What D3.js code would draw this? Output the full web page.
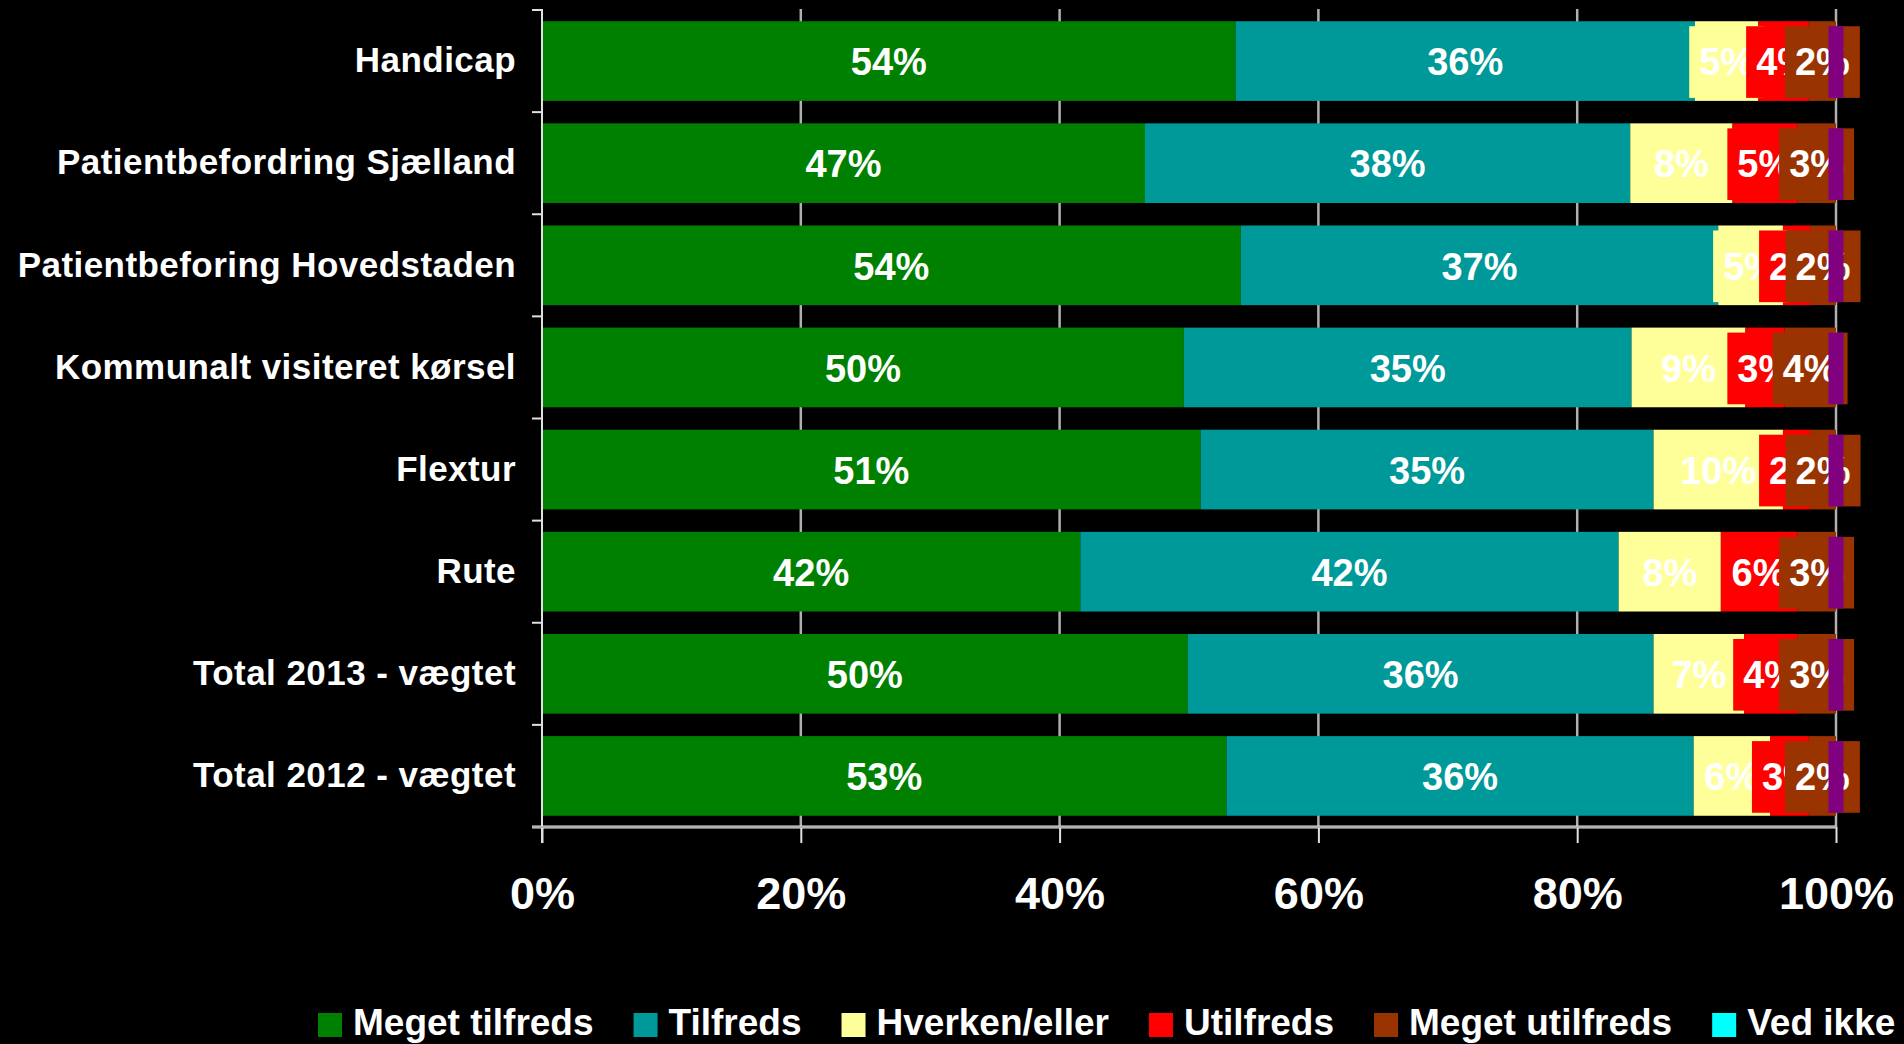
<!DOCTYPE html>
<html>
<head>
<meta charset="utf-8">
<script src="https://cdn.jsdelivr.net/npm/d3@7"></script>
<style>
  body { margin: 0; background: #000; }
  svg text { font-family: "Liberation Sans", Arial, sans-serif; font-weight: bold; fill: #fff; }
</style>
</head>
<body>
<div id="chart"></div>
<script>
const categories = [
    "Handicap",
    "Patientbefordring Sjælland",
    "Patientbeforing Hovedstaden",
    "Kommunalt visiteret kørsel",
    "Flextur",
    "Rute",
    "Total 2013 - vægtet",
    "Total 2012 - vægtet"
];
const seriesNames = ["Meget tilfreds", "Tilfreds", "Hverken/eller", "Utilfreds", "Meget utilfreds", "Ved ikke"];

// shares in percent, one value per category
const megetTilfreds = [53.6, 46.6, 54.0, 49.6, 50.9, 41.6, 49.9, 52.9];
const tilfreds      = [35.5, 37.5, 36.9, 34.6, 35.0, 41.6, 36.0, 36.1];
const hverkenEller  = [4.9, 7.9, 5.0, 8.8, 10.0, 7.9, 7.0, 5.9];
const utilfreds     = [3.9, 5.0, 2.1, 3.0, 2.1, 5.9, 4.1, 3.0];
const megetUtilfreds = [2.1, 3.0, 2.0, 4.0, 2.0, 3.0, 3.0, 2.1];
const vedIkke       = [0, 0, 0, 0, 0, 0, 0, 0];

const xTicks = [0, 20, 40, 60, 80, 100];

const colors = ["#008000", "#009999", "#FFFF99", "#FF0000", "#993300", "#00FFFF"];
const labelFills = ["#008000", "#009999", "#FFFF99", "#FF0000", "#993300", "#800080"];

function renderChart() {
    const width = 1904;
    const height = 1044;
    const left = 542, right = 1836, top = 9, bottom = 827;

    const seriesValues = [megetTilfreds, tilfreds, hverkenEller, utilfreds, megetUtilfreds, vedIkke];
    const rows = categories.map((c, i) => {
        const row = { category: c };
        seriesNames.forEach((s, k) => row[s] = seriesValues[k][i]);
        return row;
    });
    const stacked = d3.stack().keys(seriesNames)(rows);

    const x = d3.scaleLinear().domain([0, 100]).range([left, right]);
    const y = d3.scaleBand()
        .domain(categories)
        .range([10, bottom])
        .paddingInner(0.22)
        .paddingOuter(0.11);

    const svg = d3.select("#chart")
        .append("svg")
        .attr("width", width)
        .attr("height", height)
        .style("background", "#000");

    // vertical gridlines
    svg.append("g")
        .selectAll("line")
        .data(xTicks.slice(1))
        .enter()
        .append("line")
        .attr("x1", d => x(d))
        .attr("x2", d => x(d))
        .attr("y1", top)
        .attr("y2", bottom)
        .attr("stroke", "#b0b0b0")
        .attr("stroke-width", 2.5);

    // bar segments
    svg.append("g")
        .selectAll("g")
        .data(stacked)
        .enter()
        .append("g")
        .attr("fill", (d, i) => colors[i])
        .selectAll("rect")
        .data(d => d)
        .enter()
        .append("rect")
        .attr("x", d => x(d[0]))
        .attr("y", d => y(d.data.category))
        .attr("width", d => x(d[1]) - x(d[0]))
        .attr("height", y.bandwidth());

    // data labels with filled boxes, drawn series by series
    const labels = svg.append("g");
    stacked.forEach((s, k) => {
        s.forEach(d => {
            const v = d.data[s.key];
            const cx = (x(d[0]) + x(d[1])) / 2;
            const by = y(d.data.category) + 5;
            const bh = y.bandwidth() - 8;
            const g = labels.append("g");
            const box = g.append("rect")
                .attr("y", by)
                .attr("height", bh)
                .attr("fill", labelFills[k]);
            const txt = g.append("text")
                .attr("x", cx)
                .attr("y", by + bh / 2)
                .attr("dy", "0.35em")
                .attr("text-anchor", "middle")
                .style("font-size", "38px")
                .text(v > 0 ? Math.round(v) + "%" : "");
            const tw = v > 0 ? txt.node().getComputedTextLength() + 20 : 15;
            box.attr("x", cx - tw / 2).attr("width", tw);
        });
    });

    // y axis
    const yAxis = svg.append("g")
        .attr("transform", `translate(${left},0)`)
        .call(d3.axisLeft(y).tickSize(0).tickPadding(26));
    yAxis.select(".domain").remove();
    yAxis.selectAll("text")
        .attr("dy", "0.32em")
        .style("font-size", "35px")
        .style("letter-spacing", "0.45px")
        .attr("fill", "#fff");

    const bounds = categories.map(c => y(c) - y.step() * 0.11).concat([bottom]);
    svg.append("g")
        .selectAll("line")
        .data(bounds)
        .enter()
        .append("line")
        .attr("x1", left - 10)
        .attr("x2", left)
        .attr("y1", d => d)
        .attr("y2", d => d)
        .attr("stroke", "#e0e0e0")
        .attr("stroke-width", 2);

    svg.append("line")
        .attr("x1", left).attr("x2", left)
        .attr("y1", top).attr("y2", bottom + 16)
        .attr("stroke", "#e0e0e0")
        .attr("stroke-width", 2);

    // x axis
    const xAxis = svg.append("g")
        .attr("transform", `translate(0,${bottom})`)
        .call(d3.axisBottom(x)
            .tickValues(xTicks)
            .tickFormat(d => d + "%")
            .tickSize(16)
            .tickPadding(34));
    xAxis.select(".domain").remove();
    xAxis.selectAll(".tick line").attr("stroke", "#e0e0e0").attr("stroke-width", 2);
    xAxis.selectAll("text")
        .style("font-size", "45px")
        .attr("fill", "#fff");

    svg.append("line")
        .attr("x1", left - 10).attr("x2", right)
        .attr("y1", bottom).attr("y2", bottom)
        .attr("stroke", "#e8e8e8")
        .attr("stroke-width", 3);
    svg.append("line")
        .attr("x1", left - 10).attr("x2", right)
        .attr("y1", bottom).attr("y2", bottom)
        .attr("stroke", "#808080")
        .attr("stroke-width", 1);

    // legend
    const legend = svg.append("g").attr("transform", "translate(318,1013)");
    let lx = 0;
    seriesNames.forEach((s, i) => {
        const item = legend.append("g").attr("transform", `translate(${lx},0)`);
        item.append("rect")
            .attr("width", 24)
            .attr("height", 24)
            .attr("fill", colors[i]);
        const t = item.append("text")
            .attr("x", 35)
            .attr("y", 22)
            .style("font-size", "37px")
            .text(s);
        lx += 35 + t.node().getComputedTextLength() + 40;
    });
}

renderChart();
</script>
</body>
</html>
